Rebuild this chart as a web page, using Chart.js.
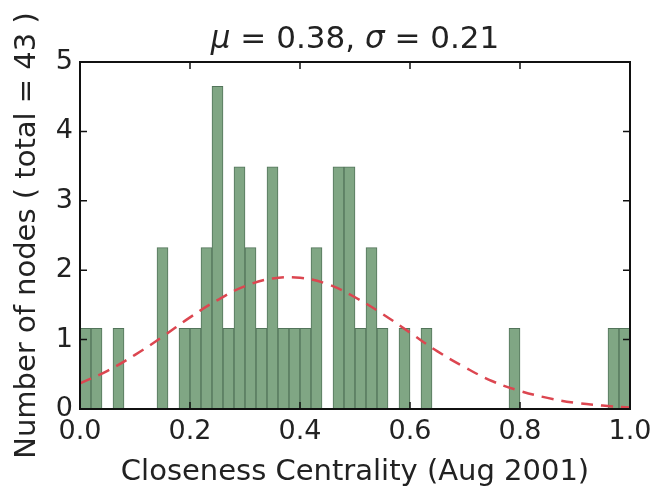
<!DOCTYPE html>
<html>
<head>
<meta charset="utf-8">
<script src="https://cdn.jsdelivr.net/npm/chart.js@4/dist/chart.umd.min.js"></script>
<style>
  html, body { margin: 0; padding: 0; background: #fff; }
  #wrap { width: 659px; height: 490px; }
</style>
</head>
<body>
<div id="wrap"><canvas id="chartHist"></canvas></div>
<script>
// histograma: 50 bins de largura 0.02 entre 0 e 1, normalizado (densidade)
const totalNodes = 43;
const binWidth = 0.02;
const binCounts = [
    1, 1, 0, 1, 0, 0, 0, 2, 0, 1,
    1, 2, 4, 1, 3, 2, 1, 3, 1, 1,
    1, 2, 0, 3, 3, 1, 2, 1, 0, 1,
    0, 1, 0, 0, 0, 0, 0, 0, 0, 1,
    0, 0, 0, 0, 0, 0, 0, 0, 1, 1
];

// curva normal ajustada (mu = 0.38, sigma = 0.21)
const fitX = [0.00, 0.05, 0.10, 0.15, 0.20, 0.25, 0.30, 0.35, 0.40, 0.45, 0.50,
              0.55, 0.60, 0.65, 0.70, 0.75, 0.80, 0.85, 0.90, 0.95, 1.00];
const fitY = [0.37, 0.55, 0.78, 1.04, 1.32, 1.57, 1.77, 1.88, 1.89, 1.80, 1.61,
              1.37, 1.10, 0.83, 0.60, 0.40, 0.26, 0.16, 0.09, 0.05, 0.02];

const xTicks = [0, 0.2, 0.4, 0.6, 0.8, 1.0];
const yTicks = [0, 1, 2, 3, 4, 5];

const fonte = '"DejaVu Sans", sans-serif';

const barras = binCounts.map((c, i) => ({
    x: +(binWidth / 2 + i * binWidth).toFixed(3),
    y: c / (totalNodes * binWidth)
}));
const curva = fitX.map((x, i) => ({ x: x, y: fitY[i] }));

// moldura + ticks para dentro (estilo matplotlib clássico) e título com mu/sigma em itálico
const molduraPlugin = {
    id: 'moldura',
    afterDraw(chart) {
        const { ctx, chartArea: a, scales } = chart;
        ctx.save();
        ctx.strokeStyle = '#111';
        ctx.lineWidth = 1.5;
        ctx.beginPath();
        xTicks.forEach(v => {
            const px = scales.x.getPixelForValue(v);
            ctx.moveTo(px, a.bottom); ctx.lineTo(px, a.bottom - 7);
            ctx.moveTo(px, a.top); ctx.lineTo(px, a.top + 7);
        });
        yTicks.forEach(v => {
            const py = scales.y.getPixelForValue(v);
            ctx.moveTo(a.left, py); ctx.lineTo(a.left + 7, py);
            ctx.moveTo(a.right, py); ctx.lineTo(a.right - 7, py);
        });
        ctx.stroke();
        ctx.lineWidth = 2;
        ctx.strokeRect(a.left, a.top, a.right - a.left, a.bottom - a.top);

        // título
        const partes = [
            { t: 'μ', it: true }, { t: ' = 0.38, ', it: false },
            { t: 'σ', it: true }, { t: ' = 0.21', it: false }
        ];
        ctx.fillStyle = '#222';
        ctx.textBaseline = 'alphabetic';
        let largura = 0;
        partes.forEach(p => {
            ctx.font = (p.it ? 'italic ' : '') + '31px ' + fonte;
            p.w = ctx.measureText(p.t).width;
            largura += p.w;
        });
        let x = (a.left + a.right) / 2 - largura / 2;
        partes.forEach(p => {
            ctx.font = (p.it ? 'italic ' : '') + '31px ' + fonte;
            ctx.fillText(p.t, x, 48);
            x += p.w;
        });
        ctx.restore();
    }
};

new Chart(document.getElementById('chartHist'), {
    data: {
        datasets: [
            {
                type: 'line',
                order: 0,
                data: curva,
                borderColor: '#dc4650',
                borderWidth: 2.5,
                borderDash: [12, 8],
                pointRadius: 0,
                tension: 0.4,
                fill: false
            },
            {
                type: 'bar',
                order: 1,
                data: barras,
                backgroundColor: '#80a684',
                borderColor: '#52745a',
                borderWidth: 1,
                barPercentage: 1,
                categoryPercentage: 1
            }
        ]
    },
    options: {
        responsive: true,
        maintainAspectRatio: false,
        animation: false,
        layout: { padding: { top: 62, right: 29, left: 10, bottom: 0 } },
        plugins: { legend: { display: false }, tooltip: { enabled: false } },
        scales: {
            x: {
                type: 'linear',
                min: 0, max: 1,
                offset: false,
                grid: { display: false, drawTicks: false, offset: false },
                border: { display: false },
                afterBuildTicks: s => { s.ticks = xTicks.map(v => ({ value: v })); },
                afterFit: s => { s.height = 81; },
                ticks: {
                    callback: v => v.toFixed(1),
                    font: { family: fonte, size: 27 },
                    color: '#222',
                    padding: 7,
                    maxRotation: 0
                },
                title: {
                    display: true,
                    text: 'Closeness Centrality (Aug 2001)',
                    font: { family: fonte, size: 29 },
                    color: '#222',
                    padding: { top: 0, bottom: 0 }
                }
            },
            y: {
                min: 0, max: 5,
                grid: { display: false, drawTicks: false },
                border: { display: false },
                afterBuildTicks: s => { s.ticks = yTicks.map(v => ({ value: v })); },
                afterFit: s => { s.width = 70; },
                ticks: {
                    font: { family: fonte, size: 27 },
                    color: '#222',
                    padding: 7
                },
                title: {
                    display: true,
                    text: 'Number of nodes ( total = 43 )',
                    font: { family: fonte, size: 29 },
                    color: '#222',
                    padding: { top: 0, bottom: 0 }
                }
            }
        }
    },
    plugins: [molduraPlugin]
});
</script>
</body>
</html>
